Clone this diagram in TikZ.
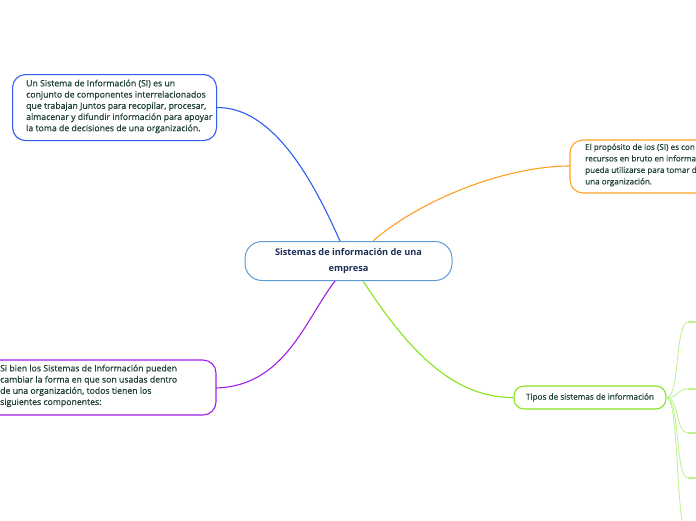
\documentclass[tikz,border=0pt]{standalone}
\usepackage{fontspec}
\setmainfont{Open Sans}
\newfontfamily\semib[FakeBold=0.6]{Open Sans}
\definecolor{txtgreen}{HTML}{1E4032}
\definecolor{txtnavy}{HTML}{1E2F56}
\definecolor{cblue}{HTML}{2F5DF0}
\definecolor{corange}{HTML}{FFA024}
\definecolor{cpurple}{HTML}{A21FE8}
\definecolor{cgreen}{HTML}{86E51E}
\definecolor{clight}{HTML}{BDF28C}
\definecolor{ccentral}{HTML}{5B9BD5}
\tikzset{
  body/.style={font=\semib\fontsize{8.7}{11.2}\selectfont, text=txtgreen, align=left, inner sep=0pt, anchor=north west},
  boxline/.style={line width=1.1pt, rounded corners=13pt},
  conn/.style={line width=1.1pt},
}
\begin{document}
\begin{tikzpicture}[x=1pt,y=-1pt]
\useasboundingbox (0,0) rectangle (696,520);
\clip (0,0) rectangle (696,520);
\fill[white] (0,0) rectangle (696,520);

% central node
\node[draw=ccentral, line width=1pt, rounded corners=17pt, minimum width=207pt, minimum height=39pt,
  font=\bfseries\fontsize{9.2}{15.5}\selectfont, text=txtnavy, align=center, inner sep=0pt] (c) at (348.5,261)
  {Sistemas de información de una\\empresa};

% top-left node
\node[draw=cblue, boxline, minimum width=204pt, minimum height=66pt, anchor=north west] (tl) at (12,74) {};
\node[body] (tlt) at (26,79.5) {Un Sistema de Información (SI) es un\\conjunto de componentes interrelacionados\\que trabajan Juntos para recopilar, procesar,\\almacenar y difundir información para apoyar\\la toma de decisiones de una organización.};

% orange node (cut at right)
\draw[corange, boxline] (570,140) rectangle (740,193);
\coordinate (orl) at (570,166);
\node[body, font=\semib\fontsize{8.1}{11.5}\selectfont] (ort) at (585,143.5) {El propósito de los (SI) es con\\recursos en bruto en informa\\pueda utilizarse para tomar d\\una organización.};

% purple node (cut at left)
\draw[cpurple, boxline] (-30,360) rectangle (216,415);
\coordinate (pur) at (216,388);
\node[body] (put) at (0,364.5) {Si bien los Sistemas de Información pueden\\cambiar la forma en que son usadas dentro\\de una organización, todos tienen los\\siguientes componentes:};

% tipos node
\node[draw=cgreen, line width=1.1pt, rounded corners=10pt, minimum width=152pt, minimum height=23pt,
  font=\semib\fontsize{8.2}{9}\selectfont, text=txtgreen, inner sep=0pt] (tp) at (590,397.5) {Tipos de sistemas de información};

% connectors
\coordinate (cb) at (340,241);
\coordinate (co) at (373,241);
\coordinate (cp) at (335,281);
\coordinate (cg) at (363,281);
\draw[conn, cblue] (tl.east) .. controls (275,107) and (315,185) .. (cb);
\draw[conn, corange] (co) .. controls (420,200) and (505,166) .. (orl);
\draw[conn, cpurple] (pur) .. controls (285,386) and (305,320) .. (cp);
\draw[conn, cgreen] (cg) .. controls (405,345) and (450,398) .. (tp.west);

% children of tipos (off picture)
\coordinate (k1) at (688,322);
\coordinate (k2) at (688,389);
\coordinate (k3) at (688,433);
\coordinate (k4) at (688,478);
\coordinate (k5) at (688,535);
\foreach \k in {k1,k2,k3,k4,k5}
  \draw[clight, line width=0.8pt] (tp.east) .. controls (680,398) and (675,0|-\k) .. (\k);
\foreach \k in {k1,k2,k3,k4}
  \draw[clight, line width=1.6pt] (\k) -- ++(10,0);
\end{tikzpicture}
\end{document}
